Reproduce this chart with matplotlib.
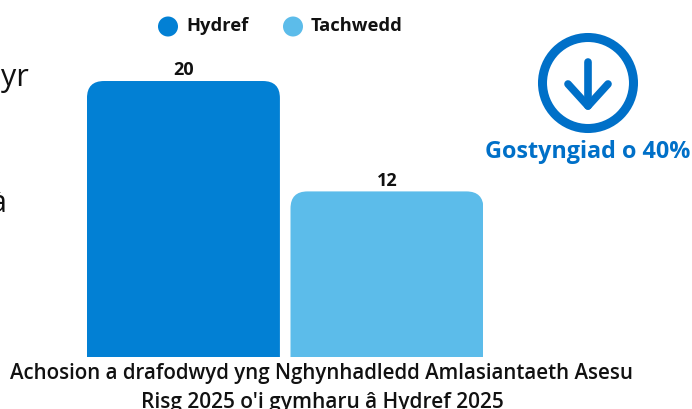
#!/usr/bin/env python3
import matplotlib
matplotlib.use("Agg")
import matplotlib.pyplot as plt
from matplotlib.patches import Circle, FancyBboxPatch
from matplotlib.transforms import IdentityTransform

months = ["Hydref", "Tachwedd"]
cases = [20, 12]
colours = ["#0280D4", "#5CBCEA"]

W, H = 692, 410
FONT = "Open Sans"
BLUE = "#0070C8"
INK = "#111111"

fig = plt.figure(figsize=(W / 100, H / 100), dpi=100)

# bars, baseline at y=357 px
ax = fig.add_axes([77 / W, (H - 358) / H, 416 / W, 316 / H])
ax.set_xlim(-0.523, 1.521)
ax.set_ylim(0, 22.9)
ax.axis("off")

bars = ax.bar(range(len(cases)), cases, width=0.948, color=colours)
fig.canvas.draw()
for rect, val in zip(bars, cases):
    # round only the top corners: clip against a box running past the baseline
    box = rect.get_window_extent()
    r = 17
    clip = FancyBboxPatch((box.x0 + r, box.y0 - 40), box.width - 2 * r, box.height + 40 - r,
                          boxstyle="round,pad=%d,rounding_size=%d" % (r, r),
                          transform=IdentityTransform())
    rect.set_clip_path(clip)
    ax.annotate(str(val), (rect.get_x() + rect.get_width() / 2, val), xytext=(0, 2),
                textcoords="offset points", ha="center", va="bottom",
                fontsize=13, fontweight="bold", family=FONT, color=INK)

# overlay in pixel coordinates for legend, icon and text
ov = fig.add_axes([0, 0, 1, 1], facecolor="none")
ov.set_xlim(0, W)
ov.set_ylim(H, 0)
ov.axis("off")

legend_x = [168, 293]
for x, name, c in zip(legend_x, months, colours):
    ov.add_patch(Circle((x, 27.5), 10, color=c, lw=0))
    ov.text(x + 18, 26, name, ha="left", va="center", fontsize=13.2, fontweight="bold",
            family=FONT, color=INK)

# cut off paragraph at the left edge
ov.text(28.5, 86, "yr", ha="right", va="baseline", fontsize=22, family=FONT, color=INK)
ov.text(7, 212, "à", ha="right", va="baseline", fontsize=22, family=FONT, color=INK)

# down arrow icon
ov.add_patch(Circle((588, 84), 45.5, fill=False, ec=BLUE, lw=6.5))
ov.plot([588, 588], [63, 107], color=BLUE, lw=5.5, solid_capstyle="round")
ov.plot([568, 588, 608], [85, 107, 85], color=BLUE, lw=5.5, solid_capstyle="round",
        solid_joinstyle="round")
ov.text(588, 158, "Gostyngiad o 40%", ha="center", va="baseline", fontsize=16.8,
        fontweight="bold", family=FONT, color=BLUE)

ov.text(322, 379, "Achosion a drafodwyd yng Nghynhadledd Amlasiantaeth Asesu",
        ha="center", va="baseline", fontsize=14.8, fontweight="semibold", family=FONT, color=INK)
ov.text(322, 408, "Risg 2025 o'i gymharu â Hydref 2025",
        ha="center", va="baseline", fontsize=15, fontweight="semibold", family=FONT, color=INK)

fig.savefig("out.png", dpi=100)
